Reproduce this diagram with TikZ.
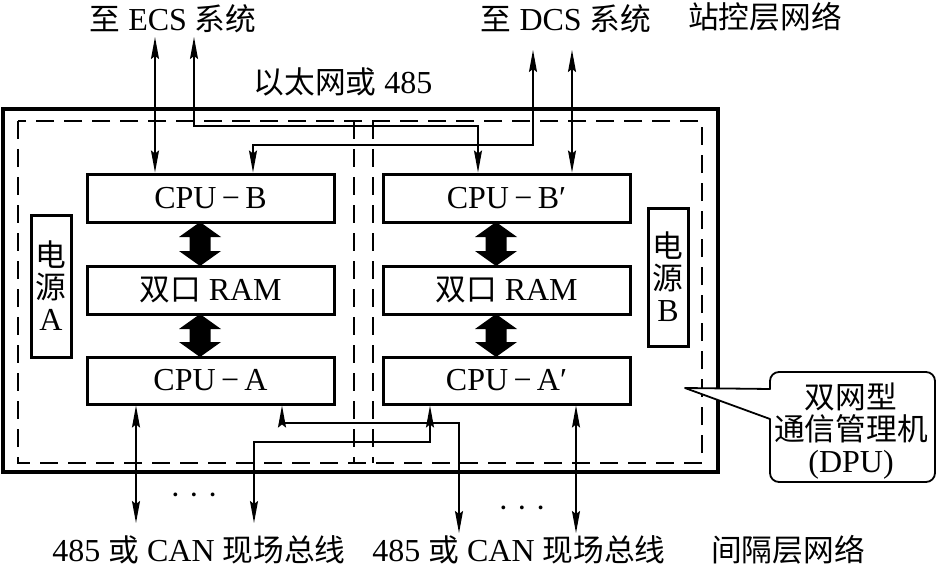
\documentclass[tikz,border=0pt]{standalone}
\usepackage{fontspec}
\setmainfont{Liberation Serif}
\newfontfamily\cjk[Scale=0.96]{Noto Sans CJK SC}
\usetikzlibrary{arrows.meta}
\newcommand\zh[1]{{\cjk #1}}
\newcommand\bigfont{\fontsize{32}{33}\selectfont}
\newcommand\fatarr[3]{\fill (#1,#2) -- (#1+21,#2+15) -- (#1+10.5,#2+15) -- (#1+10.5,#3-15) -- (#1+21,#3-15) -- (#1,#3) -- (#1-21,#3-15) -- (#1-10.5,#3-15) -- (#1-10.5,#2+15) -- (#1-21,#2+15) -- cycle;}
\begin{document}
\begin{tikzpicture}[x=1pt,y=-1pt,
  txt/.style={font=\bigfont, inner sep=0pt},
  box/.style={draw, line width=3pt, minimum width=247pt, minimum height=48pt, inner sep=0pt, font=\bigfont},
  pbox/.style={draw, line width=3pt, minimum width=40pt, inner sep=0pt, align=center, font=\fontsize{32}{32}\selectfont},
  conn/.style={line width=1.6pt, {Stealth[length=22pt,width=8pt,inset=3pt]}-{Stealth[length=22pt,width=8pt,inset=3pt]}},
  dsh/.style={line width=2pt, dash pattern=on 18pt off 10pt},
]
\useasboundingbox (0,0) rectangle (937,567);
\fill[white] (0,0) rectangle (937,567);

% enclosure
\draw[line width=4pt] (3,109) rectangle (718,472);
\draw[dsh] (18,121) rectangle (702,463);
\draw[dsh] (354,121) -- (354,463);
\draw[dsh] (373,121) -- (373,463);

% boxes
\node[box] (cpub) at (210.5,198) {CPU\,−\,B};
\node[box] (ram) at (210.5,290) {\zh{双口}\ RAM};
\node[box, minimum height=47pt] (cpua) at (210.5,380.5) {CPU\,−\,A};
\node[box] (cpub2) at (506.5,198) {CPU\,−\,B′};
\node[box] (ram2) at (506.5,290) {\zh{双口}\ RAM};
\node[box, minimum height=47pt] (cpua2) at (506.5,380.5) {CPU\,−\,A′};
\node[pbox, minimum height=142pt] (pwra) at (51,286) {\zh{电}\\\zh{源}\\A};
\node[pbox, minimum height=138pt] (pwrb) at (668,277) {\zh{电}\\\zh{源}\\B};

% fat arrows
\fatarr{200}{222}{266}
\fatarr{200}{314}{357}
\fatarr{496}{222}{266}
\fatarr{496}{314}{357}

% labels
\node[txt] (ecs) at (173,19) {\zh{至}\ ECS\ \zh{系统}};
\node[txt] (dcs) at (566,19) {\zh{至}\ DCS\ \zh{系统}};
\node[txt] (zk) at (765,17) {\zh{站控层网络}};
\node[txt] (eth) at (343,82) {\zh{以太网或}\ 485};
\node[txt] (bus1) at (199,550) {485\ \zh{或}\ CAN\ \zh{现场总线}};
\node[txt] (bus2) at (519,550) {485\ \zh{或}\ CAN\ \zh{现场总线}};
\node[txt] (jg) at (788,550) {\zh{间隔层网络}};
\node[txt] (dots1) at (194,499) {·\ ·\ ·};
\node[txt] (dots2) at (522,512) {·\ ·\ ·};

% top connectors
\coordinate (e1) at (155,37);
\coordinate (e2) at (194,37);
\coordinate (d1) at (533,50);
\coordinate (d2) at (572,50);
\coordinate (t1) at (478,126);
\coordinate (t2) at (253,145);
\draw[conn] (e1) -- (e1 |- cpub.north);
\draw[conn] (e2) |- (t1) -- (t1 |- cpub2.north);
\draw[conn] (d1) |- (t2) -- (t2 |- cpub.north);
\draw[conn] (d2) -- (d2 |- cpub2.north);

% bottom connectors
\coordinate (b1) at (136,523);
\coordinate (b2) at (459,533);
\coordinate (b3) at (254,523);
\coordinate (b4) at (576,533);
\coordinate (k1) at (282,423);
\coordinate (k2) at (430,442);
\draw[conn] (b1 |- cpua.south) -- (b1);
\draw[conn] (k1 |- cpua.south) -- (k1) -| (b2);
\draw[conn] (k2 |- cpua2.south) -- (k2) -| (b3);
\draw[conn] (b4 |- cpua2.south) -- (b4);

% callout
\filldraw[fill=white, line width=1.8pt, line join=round] (685,388) -- (770,389) {[rounded corners=9pt] -- (770,372) -- (935,372) -- (935,482) -- (770,482)} -- (770,419) -- cycle;
\node[txt, align=center, font=\fontsize{32}{32}\selectfont] (dpu) at (851,431) {\zh{双网型}\\\zh{通信管理机}\\(DPU)};
\end{tikzpicture}
\end{document}
